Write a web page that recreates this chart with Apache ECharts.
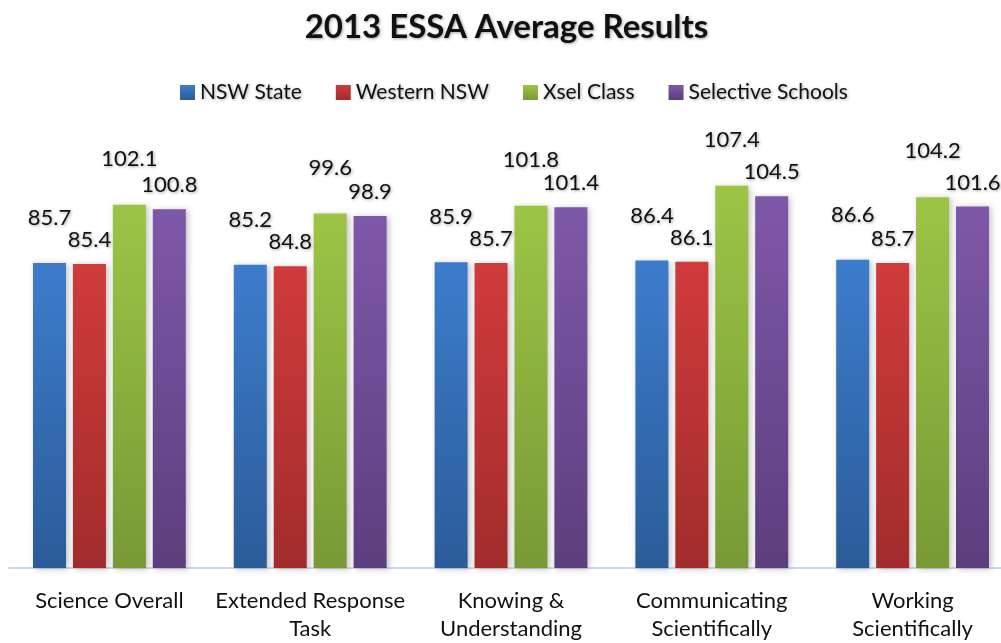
<!DOCTYPE html>
<html>
<head>
<meta charset="utf-8">
<script src="https://cdn.jsdelivr.net/npm/echarts@6/dist/echarts.min.js"></script>
<style>html,body{margin:0;padding:0;background:#fff;overflow:hidden;width:1001px;height:643px}#c{width:1013px;height:643px}</style>
</head>
<body>
<div id="c"></div>
<script>
var categories = ['Science Overall', 'Extended Response\nTask', 'Knowing &\nUnderstanding', 'Communicating\nScientifically', 'Working\nScientifically'];
var seriesNames = ['NSW State', 'Western NSW', 'Xsel Class', 'Selective Schools'];
var nswState = [85.7, 85.2, 85.9, 86.4, 86.6];
var westernNsw = [85.4, 84.8, 85.7, 86.1, 85.7];
var xselClass = [102.1, 99.6, 101.8, 107.4, 104.2];
var selectiveSchools = [100.8, 98.9, 101.4, 104.5, 101.6];

var values = [nswState, westernNsw, xselClass, selectiveSchools];
var topColors = ['#3d7ccc', '#d03b3b', '#9cc546', '#7d58a9'];
var bottomColors = ['#2b5c98', '#a22c2c', '#789935', '#5d3e7d'];
var labelDist = [34, 13, 35, 13];
var FONT = 'Lato, "Liberation Sans", sans-serif';
var shadowText = {textShadowColor: 'rgba(0,0,0,0.35)', textShadowBlur: 3, textShadowOffsetX: 1, textShadowOffsetY: 1};

var chart = echarts.init(document.getElementById('c'), null, {renderer: 'canvas'});
var series = values.map(function (arr, i) {
  return {
    name: seriesNames[i],
    type: 'bar',
    data: arr,
    barWidth: 33,
    barGap: '21%',
    itemStyle: {
      color: new echarts.graphic.LinearGradient(0, 0, 0, 1, [
        {offset: 0, color: topColors[i]},
        {offset: 1, color: bottomColors[i]}
      ]),
      shadowColor: 'rgba(0,0,0,0.25)',
      shadowBlur: 6,
      shadowOffsetX: 2,
      shadowOffsetY: 1
    },
    label: Object.assign({
      show: true,
      position: 'top',
      distance: labelDist[i],
      fontFamily: FONT,
      fontSize: 22,
      color: '#111'
    }, shadowText),
    emphasis: {disabled: true}
  };
});

chart.setOption({
  animation: false,
  backgroundColor: '#fff',
  title: {
    text: '2013 ESSA Average Results',
    left: 'center',
    top: 6,
    textStyle: Object.assign({fontFamily: FONT, fontSize: 33, fontWeight: 'bold', color: '#111'}, shadowText)
  },
  legend: {
    data: seriesNames,
    top: 77,
    left: 175,
    itemWidth: 15,
    itemHeight: 15,
    itemGap: 34,
    icon: 'rect',
    textStyle: Object.assign({fontFamily: FONT, fontSize: 21, color: '#111'}, shadowText)
  },
  grid: {left: 9, right: 0, top: 141, bottom: 71, containLabel: false},
  xAxis: {
    type: 'category',
    data: categories,
    axisLine: {lineStyle: {color: '#cddaeb', width: 2}},
    axisTick: {show: false},
    axisLabel: {fontFamily: FONT, fontSize: 22, color: '#111', margin: 19, lineHeight: 28, interval: 0}
  },
  yAxis: {
    type: 'value',
    min: 0,
    max: 120,
    interval: 20,
    show: false,
    splitLine: {show: false}
  },
  series: series
});
</script>
</body>
</html>
